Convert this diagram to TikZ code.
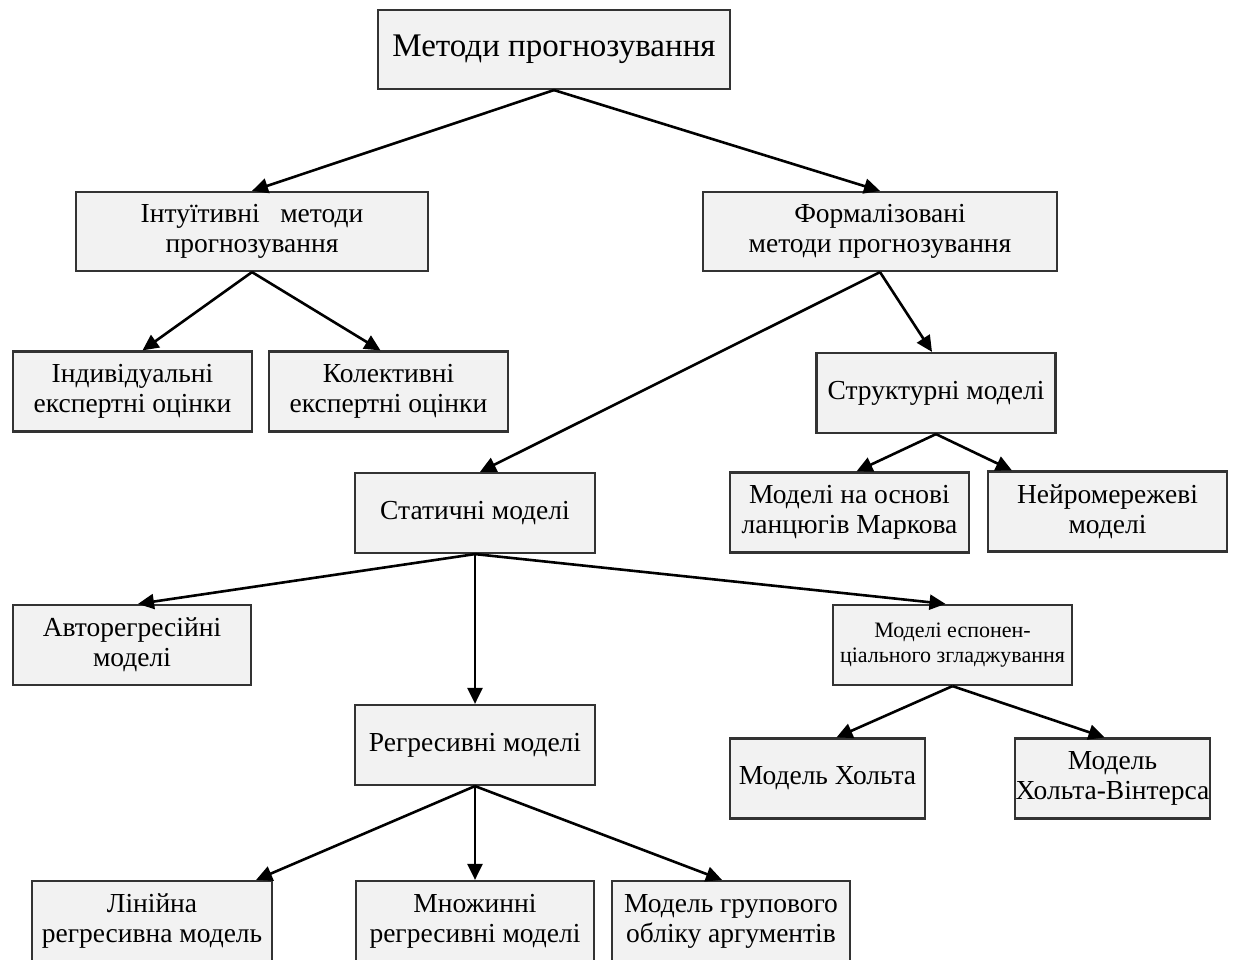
\documentclass[tikz,border=0pt]{standalone}
\usepackage{fontspec}
\setmainfont{Liberation Serif}
\usetikzlibrary{arrows.meta}
\definecolor{boxfill}{HTML}{F2F2F2}
\definecolor{boxline}{HTML}{333333}

\begin{document}
\begin{tikzpicture}[x=1pt, y=-1pt,
    box/.style={draw=boxline, line width=2.2pt, fill=boxfill, inner sep=0pt,
                minimum width=239pt, minimum height=80pt, align=center,
                font=\fontsize{27.5}{30}\selectfont},
    link/.style={-{Triangle[length=16pt, width=15pt]}, line width=2.6pt}]
    \useasboundingbox (0,0) rectangle (1235,960);
    \clip (0,0) rectangle (1235,960);

    % levels 1-2
    \node[box, minimum width=352pt, minimum height=79pt,
          font=\fontsize{33}{38}\selectfont] (methods) at (554,49.5) {Методи прогнозування};
    \node[box, minimum width=352pt, minimum height=79pt] (intuitive) at (252,231.5)
        {Інтуїтивні\ \ \ методи\\прогнозування};
    \node[box, minimum width=354pt, minimum height=79pt] (formal) at (880,231.5)
        {Формалізовані\\методи прогнозування};

    % level 3
    \node[box] (individual) at (132.5,391.5) {Індивідуальні\\експертні оцінки};
    \node[box] (collective) at (388.5,391.5) {Колективні\\експертні оцінки};
    \node[box] (structural) at (936,393) {Структурні моделі};

    % level 4
    \node[box, minimum width=240pt] (static) at (475,513) {Статичні моделі};
    \node[box] (markov) at (849.5,512.5) {Моделі на основі\\ланцюгів Маркова};
    \node[box] (neural) at (1107.5,511.5) {Нейромережеві\\моделі};

    % level 5
    \node[box, minimum width=238pt] (autoreg) at (132,645) {Авторегресійні\\моделі};
    \node[box, font=\fontsize{22}{25}\selectfont] (smoothing) at (952.5,645)
        {Моделі еспонен-\\ціального згладжування};
    \node[box, minimum width=240pt] (regress) at (475,745) {Регресивні моделі};
    \node[box, minimum width=195pt] (holt) at (827.5,778.5) {Модель Хольта};
    \node[box, minimum width=195pt] (winters) at (1112.5,778.5) {Модель\\Хольта-Вінтерса};

    % level 6
    \node[box, minimum width=240pt] (linear) at (152,921) {Лінійна\\регресивна модель};
    \node[box, minimum width=238pt] (multiple) at (475,921) {Множинні\\регресивні моделі};
    \node[box, minimum width=238pt] (gmdh) at (731,921) {Модель групового\\обліку аргументів};

    \draw[link] (methods.south) -- (intuitive.north);
    \draw[link] (methods.south) -- (formal.north);
    \draw[link] (intuitive.south) -- ([xshift=10pt]individual.north);
    \draw[link] (intuitive.south) -- ([xshift=-8pt]collective.north);
    \draw[link] (formal.south) -- ([xshift=-4pt]structural.north);
    \draw[link] (formal.south) -- ([xshift=5pt]static.north);
    \draw[link] (structural.south) -- ([xshift=7pt]markov.north);
    \draw[link] (structural.south) -- ([xshift=25pt]neural.north west);
    \draw[link] (static.south) -- ([xshift=6pt]autoreg.north);
    \draw[link] (static.south) -- (regress.north);
    \draw[link] (static.south) -- ([xshift=-7pt]smoothing.north);
    \draw[link] (smoothing.south) -- ([xshift=9pt]holt.north);
    \draw[link] (smoothing.south) -- ([xshift=-8pt]winters.north);
    \draw[link] (regress.south) -- ([xshift=-17pt]linear.north east);
    \draw[link] (regress.south) -- (multiple.north);
    \draw[link] (regress.south) -- ([xshift=-9pt]gmdh.north);
\end{tikzpicture}
\end{document}
